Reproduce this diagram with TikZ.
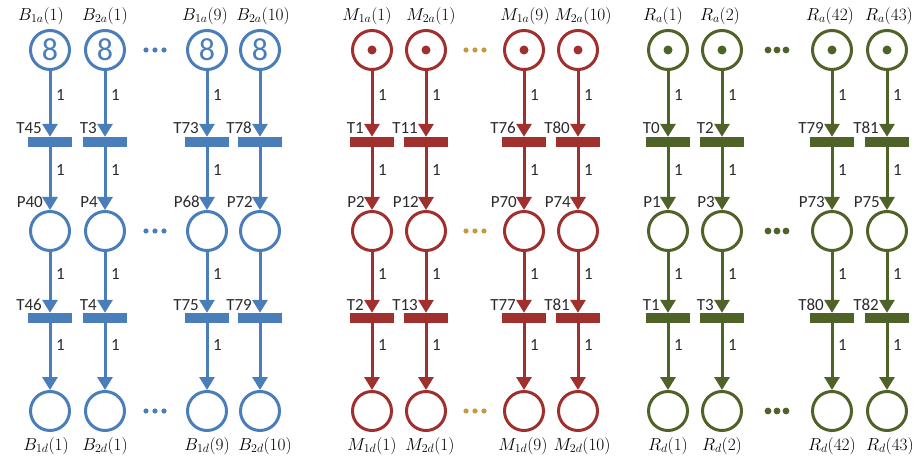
\documentclass[tikz,border=0pt]{standalone}
\usepackage{fontspec}
\setsansfont{Carlito}
\usetikzlibrary{arrows.meta}
\definecolor{pnblue}{HTML}{4A7EBB}
\definecolor{pnred}{HTML}{A0302D}
\definecolor{pngreen}{HTML}{4F6228}
\definecolor{pngold}{HTML}{C39A3E}
\definecolor{pntext}{HTML}{2B2B2B}
\tikzset{
  place/.style={circle, draw=#1, line width=3pt, minimum size=39pt, inner sep=0pt},
  trans/.style={rectangle, fill=#1, minimum width=44pt, minimum height=10pt, inner sep=0pt},
  flow/.style={draw=#1, line width=3pt, -{Triangle[width=15pt,length=13pt]}},
  smalltext/.style={font=\sffamily\fontsize{17}{17}\selectfont, text=pntext, inner sep=0pt},
  weight/.style={smalltext, anchor=west, xshift=6pt},
  tname/.style={smalltext, anchor=base east},
  mname/.style={font=\fontsize{17.5}{17.5}\selectfont, inner sep=0pt, text=black},
  eight/.style={font=\sffamily\fontsize{32}{32}\selectfont, inner sep=0pt},
  token/.style={circle, fill=#1, minimum size=9pt, inner sep=0pt},
}
% initial marking of a place: a count or a single token
\newcommand\pntokeight[2]{\node[eight, text=#2] (#1-tok) at (#1.center) {8};}
\newcommand\pntokdot[2]{\node[token=#2] (#1-tok) at (#1.center) {};}
\begin{document}
\begin{tikzpicture}[x=1pt, y=-1pt]
\fill[white] (0,0) rectangle (924,457);
\useasboundingbox (0,0) rectangle (924,457);
% one chain per column: input place -> transition -> place -> transition -> output place
% fields: group/colour/marking/index/x/input label/shift/T/P/T/output label/shift/weights
\foreach \g/\c/\tk/\i/\x/\la/\sa/\ta/\pb/\tb/\ld/\sd/\w in {
  b/pnblue/eight/1/50/$B_{1a}(1)$/-9/T45/P40/T46/$B_{1d}(1)$/-4/1,
  b/pnblue/eight/2/105/$B_{2a}(1)$/0/T3/P4/T4/$B_{2d}(1)$/0/1,
  b/pnblue/eight/3/207/$B_{1a}(9)$/-2/T73/P68/T75/$B_{1d}(9)$/0/1,
  b/pnblue/eight/4/260/$B_{2a}(10)$/3/T78/P72/T79/$B_{2d}(10)$/5/0,
  m/pnred/dot/1/372/$M_{1a}(1)$/-5/T1/P2/T2/$M_{1d}(1)$/0/1,
  m/pnred/dot/2/426/$M_{2a}(1)$/5/T11/P12/T13/$M_{2d}(1)$/4/1,
  m/pnred/dot/3/524/$M_{1a}(9)$/1/T76/P70/T77/$M_{1d}(9)$/-1/1,
  m/pnred/dot/4/578/$M_{2a}(10)$/5/T80/P74/T81/$M_{2d}(10)$/4/1,
  r/pngreen/dot/1/668/$R_a(1)$/-5/T0/P1/T1/$R_d(1)$/0/1,
  r/pngreen/dot/2/722/$R_a(2)$/-2/T2/P3/T3/$R_d(2)$/0/1,
  r/pngreen/dot/3/832/$R_a(42)$/-2/T79/P73/T80/$R_d(42)$/0/1,
  r/pngreen/dot/4/887/$R_a(43)$/2/T81/P75/T82/$R_d(43)$/3/1}
{
  \node[place=\c] (\g\i-in)  at (\x,50)  {};
  \node[trans=\c] (\g\i-ta)  at (\x,142) {};
  \node[place=\c] (\g\i-mid) at (\x,231) {};
  \node[trans=\c] (\g\i-tb)  at (\x,318) {};
  \node[place=\c] (\g\i-out) at (\x,411) {};
  \csname pntok\tk\endcsname{\g\i-in}{\c}
  \node[mname] (\g\i-lin)  at (\x+\sa,16)  {\la};
  \node[mname] (\g\i-lout) at (\x+\sd,446) {\ld};
  \node[tname] (\g\i-lta)  at (\x-8,134) {\ta};
  \node[tname] (\g\i-lmid) at (\x-7,208) {\pb};
  \node[tname] (\g\i-ltb)  at (\x-8,310) {\tb};
  \draw[flow=\c] (\g\i-in)  -- (\g\i-ta);
  \draw[flow=\c] (\g\i-ta)  -- (\g\i-mid);
  \draw[flow=\c] (\g\i-mid) -- (\g\i-tb);
  \draw[flow=\c] (\g\i-tb)  -- (\g\i-out);
  \ifnum\w=1\relax
    \path (\g\i-in)  -- (\g\i-ta)  node[weight, pos=.36] (\g\i-w1) {1};
    \path (\g\i-ta)  -- (\g\i-mid) node[weight, pos=.36] (\g\i-w2) {1};
    \path (\g\i-mid) -- (\g\i-tb)  node[weight, pos=.36] (\g\i-w3) {1};
    \path (\g\i-tb)  -- (\g\i-out) node[weight, pos=.33] (\g\i-w4) {1};
  \fi
}
% ellipses between the two pairs of columns in each group
\foreach \mx/\dc/\dr in {155/pnblue/2.6, 475/pngold/2.6, 777/pngreen/3.4}
  \foreach \yy in {50,231,411}
    \foreach \dx in {-9,0,9}
      \fill[\dc] (\mx+\dx,\yy) circle[radius=\dr];
\end{tikzpicture}
\end{document}
